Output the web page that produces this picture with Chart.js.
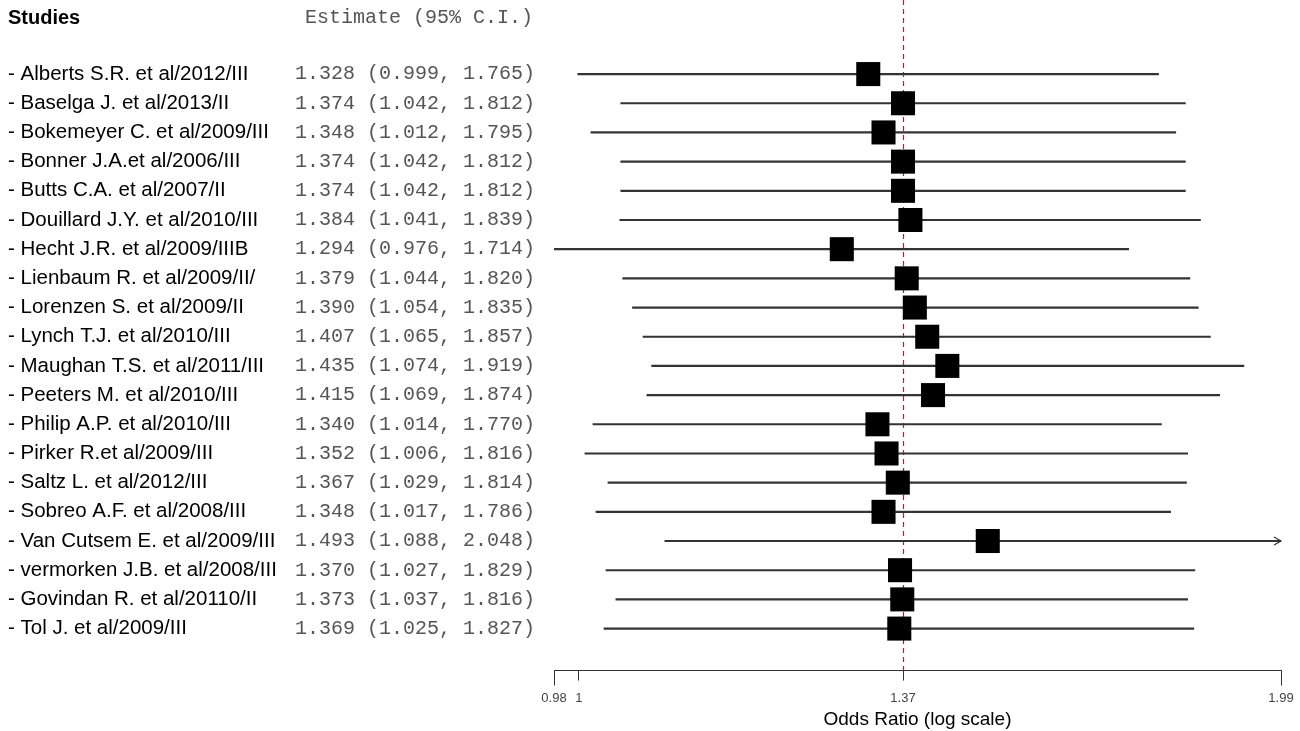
<!DOCTYPE html>
<html>
<head>
<meta charset="utf-8">
<title>Forest plot</title>
<script src="https://cdn.jsdelivr.net/npm/chart.js@4.4.1/dist/chart.umd.min.js"></script>
<style>
  html, body { margin: 0; padding: 0; background: #fff; }
  #wrap { width: 1300px; height: 731px; }
</style>
</head>
<body>
<div id="wrap"><canvas id="forest" width="1300" height="731"></canvas></div>
<script>
// dane z wykresu
const studies = [
  "- Alberts S.R. et al/2012/III",
  "- Baselga J. et al/2013/II",
  "- Bokemeyer C. et al/2009/III",
  "- Bonner J.A.et al/2006/III",
  "- Butts C.A. et al/2007/II",
  "- Douillard J.Y. et al/2010/III",
  "- Hecht J.R. et al/2009/IIIB",
  "- Lienbaum R. et al/2009/II/",
  "- Lorenzen S. et al/2009/II",
  "- Lynch T.J. et al/2010/III",
  "- Maughan T.S. et al/2011/III",
  "- Peeters M. et al/2010/III",
  "- Philip A.P. et al/2010/III",
  "- Pirker R.et al/2009/III",
  "- Saltz L. et al/2012/III",
  "- Sobreo A.F. et al/2008/III",
  "- Van Cutsem E. et al/2009/III",
  "- vermorken J.B. et al/2008/III",
  "- Govindan R. et al/20110/II",
  "- Tol J. et al/2009/III"
];
const estimates = [1.328, 1.374, 1.348, 1.374, 1.374, 1.384, 1.294, 1.379, 1.390, 1.407,
                   1.435, 1.415, 1.340, 1.352, 1.367, 1.348, 1.493, 1.370, 1.373, 1.369];
const lower = [0.999, 1.042, 1.012, 1.042, 1.042, 1.041, 0.976, 1.044, 1.054, 1.065,
               1.074, 1.069, 1.014, 1.006, 1.029, 1.017, 1.088, 1.027, 1.037, 1.025];
const upper = [1.765, 1.812, 1.795, 1.812, 1.812, 1.839, 1.714, 1.820, 1.835, 1.857,
               1.919, 1.874, 1.770, 1.816, 1.814, 1.786, 2.048, 1.829, 1.816, 1.827];
const pooled = 1.374;
const xMin = 0.976;
const xMax = 1.99;
const tickValues = [xMin, 1, pooled, xMax];

const nameFont = '20.5px "Liberation Sans", Arial, sans-serif';
const monoFont = '20px "Liberation Mono", "Courier New", monospace';

// tekst po lewej, linia odniesienia i strzalka
const forestPlugin = {
  id: 'forest',
  beforeDatasetsDraw(chart) {
    const ctx = chart.ctx;
    const x = chart.scales.x;
    const area = chart.chartArea;
    const px = Math.round(x.getPixelForValue(pooled)) + 0.5;
    ctx.save();
    ctx.strokeStyle = 'red';
    ctx.lineWidth = 1.2;
    ctx.setLineDash([5, 4]);
    ctx.beginPath();
    ctx.moveTo(px, 0);
    ctx.lineTo(px, area.bottom);
    ctx.stroke();
    ctx.restore();
  },
  afterDraw(chart) {
    const ctx = chart.ctx;
    const x = chart.scales.x;
    const y = chart.scales.y;
    const area = chart.chartArea;
    ctx.save();

    ctx.fillStyle = '#000';
    ctx.textBaseline = 'middle';
    ctx.font = 'bold 20px "Liberation Sans", Arial, sans-serif';
    ctx.fillText('Studies', 8, 18);
    ctx.font = monoFont;
    ctx.fillStyle = '#555';
    ctx.fillText('Estimate (95% C.I.)', 305, 18);

    studies.forEach((name, i) => {
      const py = y.getPixelForValue(i);
      ctx.font = nameFont;
      ctx.fillStyle = '#000';
      ctx.fillText(name, 8, py);
      ctx.font = monoFont;
      ctx.fillStyle = '#555';
      const txt = estimates[i].toFixed(3) + ' (' + lower[i].toFixed(3) + ', ' + upper[i].toFixed(3) + ')';
      ctx.fillText(txt, 295, py);

      // strzalka gdy przedzial wychodzi poza os
      if (upper[i] > xMax) {
        const r = area.right;
        ctx.strokeStyle = '#333';
        ctx.lineWidth = 1.2;
        ctx.beginPath();
        ctx.moveTo(r - 7, py - 4);
        ctx.lineTo(r, py);
        ctx.lineTo(r - 7, py + 4);
        ctx.stroke();
      }
    });

    // dluzsze kreski na koncach osi
    ctx.strokeStyle = '#333';
    ctx.lineWidth = 1;
    [xMin, xMax].forEach(v => {
      const p = Math.round(x.getPixelForValue(v)) + 0.5;
      ctx.beginPath();
      ctx.moveTo(p, area.bottom);
      ctx.lineTo(p, area.bottom + 15);
      ctx.stroke();
    });
    ctx.restore();
  }
};

new Chart(document.getElementById('forest'), {
  type: 'bar',
  data: {
    datasets: [
      {
        type: 'bar',
        label: 'CI',
        data: studies.map((s, i) => ({ y: i, x: [lower[i], upper[i]] })),
        backgroundColor: '#333',
        borderWidth: 0,
        barThickness: 1.5,
        clip: 0,
        order: 2
      },
      {
        type: 'scatter',
        label: 'Estimate',
        data: studies.map((s, i) => ({ x: estimates[i], y: i })),
        pointStyle: 'rect',
        pointRadius: 17,
        pointHoverRadius: 17,
        backgroundColor: '#000',
        borderColor: '#000',
        borderWidth: 0,
        clip: false,
        order: 1
      }
    ]
  },
  options: {
    indexAxis: 'y',
    responsive: false,
    animation: false,
    layout: { autoPadding: false, padding: { left: 554, right: 19, top: 0, bottom: 0 } },
    plugins: {
      legend: { display: false },
      tooltip: { enabled: false }
    },
    scales: {
      y: {
        type: 'linear',
        display: false,
        offset: false,
        reverse: true,
        min: -2.538,
        max: 20.44
      },
      x: {
        type: 'logarithmic',
        min: xMin,
        max: xMax,
        afterBuildTicks: (scale) => {
          scale.ticks = tickValues.map(v => ({ value: v }));
        },
        afterFit: (scale) => {
          scale.paddingLeft = 0;
          scale.paddingRight = 0;
        },
        border: { display: true, color: '#333', width: 1 },
        grid: { drawOnChartArea: false, drawTicks: true, tickLength: 10, color: '#333' },
        ticks: {
          autoSkip: false,
          maxRotation: 0,
          padding: 10,
          color: '#444',
          font: { family: '"Liberation Sans", Arial, sans-serif', size: 13 },
          callback: (v) => String(+Number(v).toFixed(2))
        },
        title: {
          display: true,
          text: 'Odds Ratio (log scale)',
          color: '#000',
          padding: { top: -8, bottom: 0 },
          font: { family: '"Liberation Sans", Arial, sans-serif', size: 19 }
        }
      }
    }
  },
  plugins: [forestPlugin]
});
</script>
</body>
</html>
